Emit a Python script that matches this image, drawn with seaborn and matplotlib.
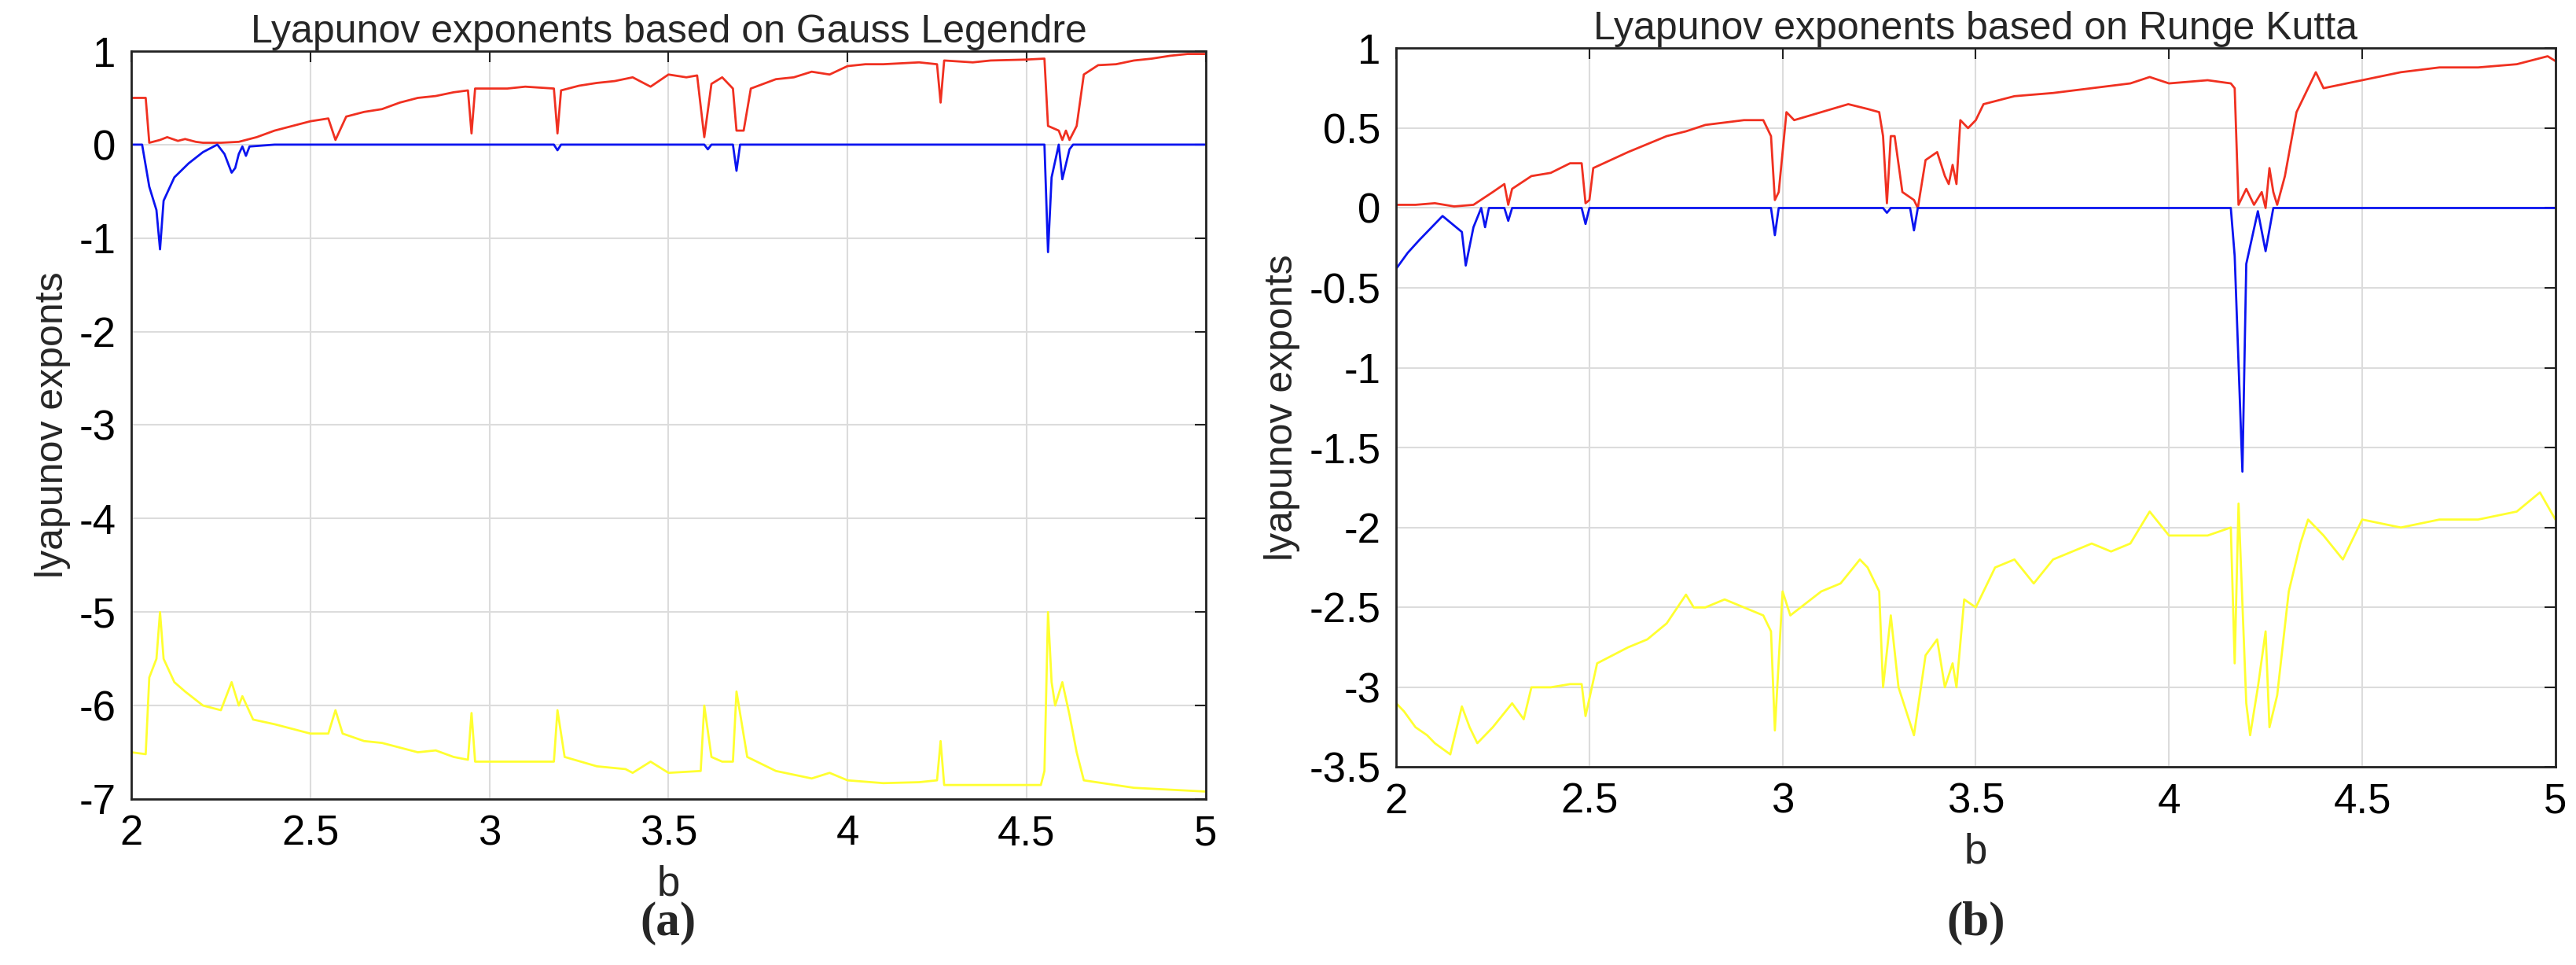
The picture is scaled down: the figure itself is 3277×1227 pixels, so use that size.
import numpy as np
import pandas as pd
import matplotlib
matplotlib.use("Agg")
import matplotlib.pyplot as plt
import seaborn as sns

sns.set_style("whitegrid")
plt.rcParams["font.family"] = ["Liberation Sans", "DejaVu Sans"]

# ---- Gauss Legendre ----
gl_red_b = [2.0, 2.04, 2.05, 2.08, 2.1, 2.13, 2.15, 2.18, 2.2, 2.25, 2.3, 2.35, 2.4, 2.45, 2.5, 2.55, 2.57, 2.6, 2.65, 2.7, 2.75, 2.8, 2.85, 2.9, 2.94, 2.95, 2.96, 3.05, 3.1, 3.18, 3.19, 3.2, 3.25, 3.3, 3.35, 3.4, 3.45, 3.5, 3.55, 3.58, 3.6, 3.62, 3.65, 3.68, 3.69, 3.71, 3.73, 3.8, 3.85, 3.9, 3.95, 4.0, 4.05, 4.1, 4.2, 4.25, 4.26, 4.27, 4.35, 4.4, 4.5, 4.55, 4.56, 4.59, 4.6, 4.61, 4.62, 4.64, 4.66, 4.7, 4.75, 4.8, 4.85, 4.9, 4.95, 5.0]
gl_red = [0.5, 0.5, 0.02, 0.05, 0.08, 0.04, 0.06, 0.03, 0.02, 0.02, 0.03, 0.08, 0.15, 0.2, 0.25, 0.28, 0.05, 0.3, 0.35, 0.38, 0.45, 0.5, 0.52, 0.56, 0.58, 0.12, 0.6, 0.6, 0.62, 0.6, 0.12, 0.58, 0.63, 0.66, 0.68, 0.72, 0.62, 0.75, 0.72, 0.74, 0.08, 0.65, 0.72, 0.6, 0.15, 0.15, 0.6, 0.7, 0.72, 0.78, 0.75, 0.84, 0.86, 0.86, 0.88, 0.86, 0.45, 0.9, 0.88, 0.9, 0.91, 0.92, 0.2, 0.15, 0.05, 0.15, 0.05, 0.2, 0.75, 0.85, 0.86, 0.9, 0.92, 0.95, 0.97, 0.97]

gl_blue_b = [2.0, 2.03, 2.05, 2.07, 2.08, 2.09, 2.12, 2.16, 2.2, 2.24, 2.26, 2.28, 2.29, 2.3, 2.31, 2.32, 2.33, 2.4, 3.18, 3.19, 3.2, 3.6, 3.61, 3.62, 3.68, 3.69, 3.7, 4.55, 4.56, 4.57, 4.59, 4.6, 4.62, 4.63, 5.0]
gl_blue = [0.0, 0.0, -0.45, -0.7, -1.12, -0.6, -0.35, -0.2, -0.08, 0.0, -0.1, -0.3, -0.25, -0.1, -0.02, -0.12, -0.02, 0.0, 0.0, -0.06, 0.0, 0.0, -0.05, 0.0, 0.0, -0.28, 0.0, 0.0, -1.15, -0.35, 0.0, -0.37, -0.05, 0.0, 0.0]

gl_yel_b = [2.0, 2.04, 2.05, 2.07, 2.08, 2.09, 2.12, 2.15, 2.2, 2.25, 2.28, 2.3, 2.31, 2.34, 2.4, 2.5, 2.55, 2.57, 2.59, 2.65, 2.7, 2.8, 2.85, 2.9, 2.94, 2.95, 2.96, 3.1, 3.18, 3.19, 3.21, 3.3, 3.38, 3.4, 3.45, 3.5, 3.59, 3.6, 3.62, 3.65, 3.68, 3.69, 3.72, 3.8, 3.9, 3.95, 4.0, 4.1, 4.2, 4.25, 4.26, 4.27, 4.4, 4.54, 4.55, 4.56, 4.57, 4.58, 4.6, 4.62, 4.64, 4.66, 4.8, 4.9, 5.0]
gl_yel = [-6.5, -6.52, -5.7, -5.5, -5.0, -5.5, -5.75, -5.85, -6.0, -6.05, -5.75, -6.0, -5.9, -6.15, -6.2, -6.3, -6.3, -6.05, -6.3, -6.38, -6.4, -6.5, -6.48, -6.55, -6.58, -6.08, -6.6, -6.6, -6.6, -6.05, -6.55, -6.65, -6.68, -6.72, -6.6, -6.72, -6.7, -6.0, -6.55, -6.6, -6.6, -5.85, -6.55, -6.7, -6.78, -6.72, -6.8, -6.83, -6.82, -6.8, -6.38, -6.85, -6.85, -6.85, -6.7, -5.0, -5.75, -6.0, -5.75, -6.1, -6.5, -6.8, -6.88, -6.9, -6.92]

# ---- Runge Kutta ----
rk_red_b = [2.0, 2.05, 2.1, 2.15, 2.2, 2.25, 2.28, 2.29, 2.3, 2.35, 2.4, 2.45, 2.48, 2.49, 2.5, 2.51, 2.6, 2.65, 2.7, 2.75, 2.8, 2.9, 2.95, 2.97, 2.98, 2.99, 3.01, 3.03, 3.1, 3.17, 3.22, 3.25, 3.26, 3.27, 3.28, 3.29, 3.31, 3.34, 3.35, 3.37, 3.4, 3.42, 3.43, 3.44, 3.45, 3.46, 3.48, 3.5, 3.52, 3.6, 3.7, 3.8, 3.9, 3.95, 4.0, 4.1, 4.16, 4.17, 4.18, 4.2, 4.22, 4.24, 4.25, 4.26, 4.27, 4.28, 4.3, 4.33, 4.36, 4.38, 4.4, 4.5, 4.6, 4.7, 4.8, 4.9, 4.98, 5.0]
rk_red = [0.02, 0.02, 0.03, 0.01, 0.02, 0.1, 0.15, 0.02, 0.12, 0.2, 0.22, 0.28, 0.28, 0.03, 0.05, 0.25, 0.35, 0.4, 0.45, 0.48, 0.52, 0.55, 0.55, 0.45, 0.05, 0.1, 0.6, 0.55, 0.6, 0.65, 0.62, 0.6, 0.45, 0.03, 0.45, 0.45, 0.1, 0.05, 0.0, 0.3, 0.35, 0.2, 0.15, 0.27, 0.15, 0.55, 0.5, 0.55, 0.65, 0.7, 0.72, 0.75, 0.78, 0.82, 0.78, 0.8, 0.78, 0.75, 0.02, 0.12, 0.02, 0.1, 0.0, 0.25, 0.1, 0.02, 0.2, 0.6, 0.75, 0.85, 0.75, 0.8, 0.85, 0.88, 0.88, 0.9, 0.95, 0.92]

rk_blue_b = [2.0, 2.03, 2.06, 2.1, 2.12, 2.17, 2.18, 2.2, 2.22, 2.23, 2.24, 2.28, 2.29, 2.3, 2.48, 2.49, 2.5, 2.97, 2.98, 2.99, 3.26, 3.27, 3.28, 3.33, 3.34, 3.35, 4.16, 4.17, 4.19, 4.2, 4.23, 4.25, 4.27, 5.0]
rk_blue = [-0.38, -0.28, -0.2, -0.1, -0.05, -0.15, -0.36, -0.12, 0.0, -0.12, 0.0, 0.0, -0.08, 0.0, 0.0, -0.1, 0.0, 0.0, -0.17, 0.0, 0.0, -0.03, 0.0, 0.0, -0.14, 0.0, 0.0, -0.3, -1.65, -0.35, -0.02, -0.27, 0.0, 0.0]

rk_yel_b = [2.0, 2.02, 2.05, 2.08, 2.1, 2.14, 2.17, 2.19, 2.21, 2.23, 2.25, 2.3, 2.33, 2.35, 2.4, 2.45, 2.48, 2.49, 2.52, 2.6, 2.65, 2.7, 2.75, 2.77, 2.8, 2.85, 2.9, 2.95, 2.97, 2.98, 3.0, 3.02, 3.1, 3.15, 3.2, 3.22, 3.25, 3.26, 3.28, 3.3, 3.34, 3.37, 3.4, 3.42, 3.44, 3.45, 3.47, 3.5, 3.55, 3.6, 3.65, 3.7, 3.8, 3.85, 3.9, 3.95, 4.0, 4.1, 4.16, 4.17, 4.18, 4.2, 4.21, 4.23, 4.25, 4.26, 4.28, 4.31, 4.34, 4.36, 4.4, 4.45, 4.5, 4.6, 4.7, 4.8, 4.9, 4.96, 5.0]
rk_yel = [-3.1, -3.15, -3.25, -3.3, -3.35, -3.42, -3.12, -3.25, -3.35, -3.3, -3.25, -3.1, -3.2, -3.0, -3.0, -2.98, -2.98, -3.18, -2.85, -2.75, -2.7, -2.6, -2.42, -2.5, -2.5, -2.45, -2.5, -2.55, -2.65, -3.27, -2.4, -2.55, -2.4, -2.35, -2.2, -2.25, -2.4, -3.0, -2.55, -3.0, -3.3, -2.8, -2.7, -3.0, -2.85, -3.0, -2.45, -2.5, -2.25, -2.2, -2.35, -2.2, -2.1, -2.15, -2.1, -1.9, -2.05, -2.05, -2.0, -2.85, -1.85, -3.1, -3.3, -3.0, -2.65, -3.25, -3.05, -2.4, -2.1, -1.95, -2.05, -2.2, -1.95, -2.0, -1.95, -1.95, -1.9, -1.78, -1.95]

panels = [
    ("Lyapunov exponents based on Gauss Legendre", "(a)",
     [(gl_red_b, gl_red), (gl_blue_b, gl_blue), (gl_yel_b, gl_yel)],
     (-7, 1), np.arange(-7, 1.01, 1), [0.051, 0.172, 0.417, 0.775]),
    ("Lyapunov exponents based on Runge Kutta", "(b)",
     [(rk_red_b, rk_red), (rk_blue_b, rk_blue), (rk_yel_b, rk_yel)],
     (-3.5, 1), np.arange(-3.5, 1.01, 0.5), [0.542, 0.205, 0.450, 0.745]),
]
colors = ["#f03020", "#0a14f0", "#ffff30"]

fig = plt.figure(figsize=(32.77, 12.27), dpi=100)
for title, cap, series, ylim, yticks, rect in panels:
    ax = fig.add_axes(rect)
    for (b, v), c in zip(series, colors):
        sns.lineplot(x=b, y=v, ax=ax, color=c, lw=2, estimator=None, sort=False)
    ax.set_xlim(2, 5)
    ax.set_ylim(*ylim)
    ax.set_yticks(yticks)
    ax.set_yticklabels([f"{t:g}" for t in yticks])
    ax.set_xticks(np.arange(2, 5.01, 0.5))
    ax.set_xticklabels([f"{t:g}" for t in np.arange(2, 5.01, 0.5)])
    ax.grid(True, color="#dcdcdc", lw=1.5)
    for s in ax.spines.values():
        s.set_color("#222222")
        s.set_linewidth(2)
    ax.tick_params(direction="in", length=10, width=1.5, top=True, right=True,
                   labelsize=38, pad=14, colors="#222222")
    ax.tick_params(labelcolor="black")
    ax.set_title(title, fontsize=36, pad=8)
    ax.set_xlabel("b", fontsize=38, labelpad=10)
    ax.set_ylabel("lyapunov exponts", fontsize=36, labelpad=8)
    fig.text(rect[0] + rect[2] / 2, 0.02, cap, ha="center", va="bottom",
             fontsize=44, family=["Liberation Serif"], fontweight="bold")

fig.savefig("out.png", dpi=100)
